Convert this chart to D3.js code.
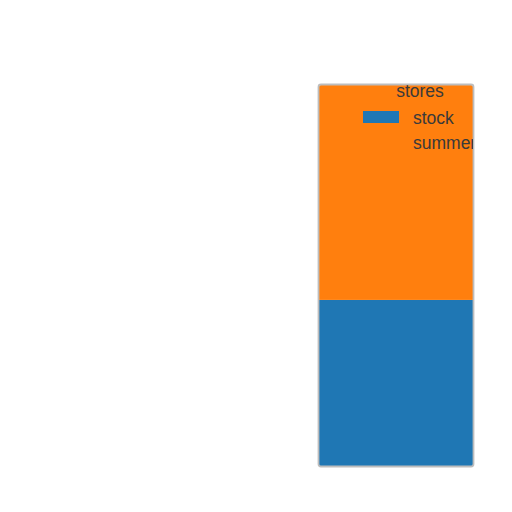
<!DOCTYPE html>
<html>
<head>
<meta charset="utf-8">
<script src="https://cdn.jsdelivr.net/npm/d3@7"></script>
<style>
  body { margin: 0; background: #fff; }
  svg { display: block; }
</style>
</head>
<body>
<div class="chart"></div>
<script>
// one stacked column, split into two store types
const categories = ["stores"];
const seriesNames = ["stock", "summer"];
const stockValues = [17];
const summerValues = [22];
const legendTitle = "stores";

const width = 512, height = 512;
const plot = { left: 319, right: 473, top: 85, bottom: 466 };

const rows = categories.map((c, i) => ({ cat: c, stock: stockValues[i], summer: summerValues[i] }));

const color = d3.scaleOrdinal().domain(seriesNames).range(["#1f77b4", "#ff7f0e"]);

const x = d3.scaleBand().domain(categories).range([plot.left, plot.right]).padding(0);
const y = d3.scaleLinear()
  .domain([0, d3.max(rows, (d) => d.stock + d.summer)])
  .range([plot.bottom, plot.top]);

const stacked = d3.stack().keys(seriesNames)(rows);

const svg = d3.select(".chart").append("svg")
  .attr("width", width)
  .attr("height", height);

svg.append("defs").append("clipPath").attr("id", "plotclip")
  .append("rect")
  .attr("x", plot.left).attr("y", plot.top)
  .attr("width", plot.right - plot.left).attr("height", plot.bottom - plot.top);

svg.append("g")
  .selectAll("g")
  .data(stacked)
  .join("g")
  .attr("fill", (d) => color(d.key))
  .selectAll("rect")
  .data((d) => d)
  .join("rect")
  .attr("x", (d) => x(d.data.cat))
  .attr("width", x.bandwidth())
  .attr("y", (d) => y(d[1]))
  .attr("height", (d) => y(d[0]) - y(d[1]));

// frame round the plot
svg.append("rect")
  .attr("x", plot.left - 0.5).attr("y", plot.top - 0.5)
  .attr("width", plot.right - plot.left + 1).attr("height", plot.bottom - plot.top + 1)
  .attr("rx", 2.5)
  .attr("fill", "none")
  .attr("stroke", "#bdbdbd")
  .attr("stroke-width", 1.8);

// legend, clipped to the plot area like the original
const legend = svg.append("g")
  .attr("clip-path", "url(#plotclip)")
  .attr("font-family", "Liberation Sans, Arial, sans-serif")
  .attr("font-size", 17.5)
  .attr("fill", "#3a3a3a");

legend.append("text")
  .attr("x", 420).attr("y", 97)
  .attr("text-anchor", "middle")
  .text(legendTitle);

const item = legend.selectAll("g.item")
  .data(seriesNames)
  .join("g")
  .attr("class", "item")
  .attr("transform", (d, i) => `translate(0,${i * 25})`);

item.append("rect")
  .attr("x", 363).attr("y", 111)
  .attr("width", 36).attr("height", 12)
  .attr("fill", (d) => color(d));

item.append("text")
  .attr("x", 413).attr("y", 123.5)
  .text((d) => d);
</script>
</body>
</html>
